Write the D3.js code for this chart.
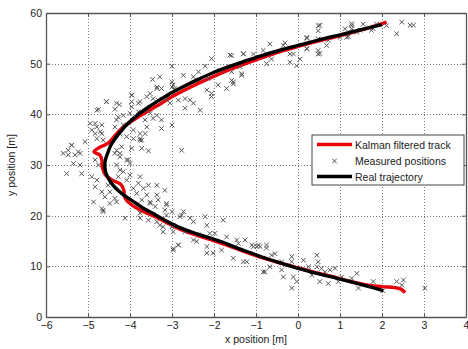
<!DOCTYPE html>
<html lang="en">
  <head>
    <title>kalman track</title>
    <meta charset="utf-8">
    <style>
      body { margin: 0; background: #fff; }
      .tick text { font-family: "Liberation Sans", Arial, sans-serif; font-size: 10.5px; fill: #222; }
      .label { font-family: "Liberation Sans", Arial, sans-serif; font-size: 10.5px; fill: #222; }
      .grid { stroke: #777; stroke-width: 1; stroke-dasharray: 1,2; }
    </style>
    <script src="https://d3js.org/d3.v7.min.js"></script>
  </head>
  <body>
    <script>

    var xTicks = [-6, -5, -4, -3, -2, -1, 0, 1, 2, 3, 4];
    var yTicks = [0, 10, 20, 30, 40, 50, 60];
    var legendLabels = ["Kalman filtered track", "Measured positions", "Real trajectory"];

    // real trajectory (bottom end first)
    var realTrack = [[2.03, 5.2], [1.6, 6.2], [1.24, 7.0], [0.8, 7.9], [0.45, 8.6], [0.0, 9.6], [-0.35, 10.5],
      [-0.7, 11.4], [-1.14, 12.7], [-1.5, 13.8], [-1.8, 14.8], [-2.1, 15.6], [-2.4, 16.4], [-2.8, 17.6],
      [-3.1, 18.8], [-3.4, 20.2], [-3.65, 21.3], [-3.85, 22.4], [-4.05, 23.5], [-4.2, 24.4], [-4.35, 25.5],
      [-4.45, 26.5], [-4.53, 27.6], [-4.58, 28.6], [-4.6, 30.0], [-4.58, 31.2], [-4.52, 32.6], [-4.45, 34.0],
      [-4.32, 35.6], [-4.18, 37.0], [-4.05, 38.2], [-3.8, 40.0], [-3.55, 41.5], [-3.3, 42.8], [-3.0, 44.3],
      [-2.7, 45.6], [-2.35, 47.0], [-2.0, 48.3], [-1.65, 49.4], [-1.3, 50.4], [-0.9, 51.5], [-0.45, 52.6],
      [0.0, 53.6], [0.5, 54.7], [1.0, 55.7], [1.5, 56.7], [2.0, 57.7]];

    var kalmanTrack = [[2.55, 4.8], [2.45, 5.5], [2.3, 5.8], [2.0, 6.0], [1.6, 6.4], [1.2, 7.1], [0.8, 8.0],
      [0.45, 8.7], [0.0, 9.7], [-0.35, 10.5], [-0.7, 11.3], [-1.14, 12.5], [-1.5, 13.6], [-1.8, 14.5],
      [-2.1, 15.3], [-2.4, 16.1], [-2.8, 17.3], [-3.1, 18.5], [-3.4, 19.8], [-3.68, 20.8], [-3.9, 21.8],
      [-4.08, 23.0], [-4.14, 24.0], [-4.14, 24.8], [-4.22, 26.2], [-4.42, 27.0], [-4.58, 28.0], [-4.66, 29.6],
      [-4.67, 31.0], [-4.72, 32.0], [-4.86, 32.6], [-4.72, 33.5], [-4.52, 34.3], [-4.36, 35.8], [-4.2, 37.2],
      [-4.02, 38.3], [-3.78, 39.6], [-3.52, 40.9], [-3.25, 42.2], [-2.95, 43.7], [-2.65, 45.0], [-2.3, 46.4],
      [-1.95, 47.7], [-1.6, 48.9], [-1.25, 50.0], [-0.85, 51.2], [-0.42, 52.4], [0.0, 53.4], [0.5, 54.5],
      [1.0, 55.5], [1.5, 56.6], [2.11, 58.2]];

    var measured = [
      [-1.58, 51.6], [-1.30, 51.9], [-1.06, 51.9], [-0.83, 52.6], [-0.67, 53.9], [-0.75, 50.0], [-0.63, 50.9],
      [-1.34, 48.0], [-1.58, 46.7], [-1.54, 46.0], [-0.35, 53.6], [-0.31, 54.1], [-0.19, 51.9], [-0.11, 51.9],
      [-0.19, 50.3], [-0.03, 49.6], [0.05, 50.9], [0.21, 55.2], [0.21, 52.9], [0.48, 57.5], [0.48, 56.5],
      [0.48, 54.9], [0.48, 52.6], [0.48, 51.9], [0.68, 53.6], [0.72, 54.6], [1.0, 55.2], [1.16, 55.2],
      [1.12, 56.9], [1.28, 57.5], [1.28, 56.9], [1.40, 56.2], [1.55, 57.8], [1.79, 56.9], [1.87, 57.8],
      [2.11, 57.5], [2.35, 55.9], [2.47, 58.2], [2.67, 57.6], [2.75, 57.6], [0.52, 57.6], [0.21, 55.0],
      [0.21, 53.0], [0.52, 52.0], [1.28, 57.9], [1.20, 55.3], [1.48, 56.6], [1.75, 56.6],
      [-3.0, 49.5], [-2.73, 47.7], [-3.29, 47.4], [-2.21, 49.5], [-2.37, 48.4], [-2.49, 47.4], [-2.14, 47.1],
      [-1.86, 48.7], [-1.62, 49.4], [-1.34, 47.7], [-1.54, 46.4], [-1.70, 45.1], [-1.90, 45.8], [-2.17, 44.8],
      [-2.06, 44.1], [-2.06, 43.5], [-3.0, 46.4], [-2.97, 45.8], [-3.0, 45.4], [-2.93, 45.1], [-3.36, 45.4],
      [-3.25, 45.1], [-3.52, 44.1], [-3.60, 43.5], [-3.45, 43.1], [-3.33, 42.8], [-3.13, 43.1], [-3.05, 42.2],
      [-2.85, 42.8], [-2.69, 43.1], [-2.57, 42.8], [-2.49, 42.2], [-2.69, 41.2], [-2.33, 40.8], [-3.96, 43.8],
      [-3.96, 42.5], [-3.80, 42.2], [-4.32, 42.2], [-4.56, 42.5], [-4.79, 40.8], [-4.16, 39.8], [-4.0, 40.2],
      [-3.80, 40.5], [-3.60, 40.8], [-3.52, 40.2], [-3.36, 39.8], [-3.45, 39.2], [-3.64, 38.9], [-3.25, 38.9],
      [-3.60, 37.5], [-3.25, 37.2], [-3.0, 37.9], [-3.92, 36.9], [-4.16, 37.9], [-4.32, 38.9], [-4.36, 37.5],
      [-4.83, 38.2], [-4.91, 36.9], [-4.71, 36.6], [-4.79, 35.2], [-4.64, 34.9], [-4.24, 36.2], [-4.08, 35.6],
      [-3.76, 35.2], [-3.72, 34.9], [-3.96, 33.3], [-3.72, 33.3], [-3.56, 32.8], [-2.77, 32.9], [-4.36, 32.3],
      [-4.24, 31.6], [-4.08, 31.0], [-4.0, 30.3], [-4.83, 31.0], [-4.75, 30.0],
      [-1.62, 51.7], [-1.30, 52.0], [-2.06, 51.0], [-1.38, 49.4], [-1.58, 48.4],
      [-5.39, 33.9], [-5.59, 32.3], [-5.47, 32.0], [-5.31, 32.0], [-5.23, 32.6], [-5.35, 30.3], [-5.19, 30.0],
      [-5.51, 28.3], [-5.15, 28.3], [-5.07, 34.6], [-4.83, 36.2], [-4.67, 36.2], [-4.91, 27.7], [-4.79, 27.0],
      [-4.83, 25.7], [-4.67, 24.7], [-4.60, 23.7], [-4.87, 22.7], [-4.67, 21.4], [-4.64, 20.8], [-4.48, 24.7],
      [-4.36, 23.4], [-4.32, 22.7], [-4.52, 26.0], [-4.44, 26.7], [-4.28, 27.7], [-4.24, 29.0], [-4.32, 30.0],
      [-4.16, 28.7], [-4.04, 31.0], [-4.24, 32.3], [-4.32, 32.9], [-4.20, 33.6], [-3.92, 35.2], [-3.76, 34.9],
      [-3.76, 36.2], [-3.64, 36.2], [-4.08, 27.0], [-4.0, 28.0], [-3.76, 27.7], [-3.80, 26.4], [-3.92, 25.4],
      [-3.84, 24.4], [-3.68, 25.4], [-3.56, 26.0], [-3.36, 26.0], [-3.17, 25.0], [-3.60, 24.1], [-3.36, 24.1],
      [-3.72, 23.1], [-3.52, 22.7], [-3.33, 23.1], [-3.13, 22.4], [-3.40, 21.8], [-3.17, 21.1], [-3.0, 20.8],
      [-3.13, 20.1], [-3.76, 19.5], [-3.56, 19.1], [-3.36, 18.8], [-3.21, 17.8], [-2.97, 18.1], [-2.81, 19.8],
      [-2.73, 20.8], [-2.57, 19.5], [-2.49, 18.8], [-4.12, 19.5],
      [-4.64, 21.1], [-4.48, 22.4], [-3.76, 20.5], [-3.52, 22.4], [-3.13, 22.1], [-3.29, 18.1], [-3.21, 16.8],
      [-3.0, 17.8], [-2.77, 20.1], [-2.69, 16.8], [-2.21, 19.8], [-2.17, 18.1], [-2.37, 16.2], [-2.49, 15.2],
      [-2.41, 14.9], [-2.97, 13.2], [-2.85, 14.2], [-2.10, 16.5], [-1.98, 16.5], [-2.17, 13.9], [-2.17, 12.6],
      [-2.02, 12.6], [-1.82, 13.2], [-1.78, 19.1], [-1.70, 15.8], [-1.46, 15.2], [-1.26, 15.2], [-1.42, 14.5],
      [-1.54, 11.6], [-1.30, 10.9], [-1.22, 10.9], [-1.06, 13.9], [-0.94, 14.2], [-0.79, 8.9], [-0.90, 13.9],
      [-1.10, 14.2], [-0.98, 13.9], [-0.75, 14.2], [-0.75, 13.6], [-0.63, 12.2], [-0.55, 12.5], [-0.83, 8.9],
      [-0.67, 9.9], [-0.39, 9.3], [-0.39, 10.9], [-0.35, 7.9], [-0.15, 11.9], [-0.15, 10.9], [-0.11, 7.9],
      [-0.03, 7.0], [-0.15, 5.7], [0.13, 11.2], [0.25, 9.9], [0.33, 8.3], [0.45, 12.2], [0.48, 10.9],
      [0.45, 9.9], [0.56, 9.6], [0.52, 7.0], [0.64, 8.9], [0.72, 6.6], [0.76, 9.3], [0.88, 9.6], [1.04, 7.9],
      [0.96, 7.0], [1.28, 7.6], [1.40, 8.6], [1.44, 5.7], [1.79, 7.0], [2.02, 5.2], [2.35, 7.0], [2.51, 7.3],
      [2.47, 6.3], [3.02, 5.7],
      [-4.75, 41.0], [-4.56, 42.5], [-4.36, 41.0], [-4.25, 41.9], [-4.28, 39.4], [-3.96, 43.8], [-3.96, 41.5],
      [-3.76, 42.5], [-3.46, 46.9], [-3.36, 45.1], [-5.47, 32.9], [-5.39, 33.9], [-5.19, 32.3], [-4.95, 38.2],
      [-4.79, 37.5], [-4.67, 37.9], [-2.97, 13.5], [-2.85, 14.2], [-2.97, 16.8]
    ];

    var margin = {top: 13, left: 46};
    var W = 468, H = 349;

    var svg = d3.select("body")
                .append("svg")
                .attr("width", W)
                .attr("height", H)
                .append("g")
                .attr("transform", "translate(" + margin.left + "," + margin.top + ")");

    var xS = d3.scaleLinear().domain([-6, 4]).range([0, 420]);
    var yS = d3.scaleLinear().domain([0, 60]).range([304, 0]);

    // dotted grid
    svg.selectAll(".gx").data(xTicks.slice(1, -1)).enter().append("line")
       .attr("class", "grid")
       .attr("x1", function(d) { return Math.round(xS(d)) + 0.5; })
       .attr("x2", function(d) { return Math.round(xS(d)) + 0.5; })
       .attr("y1", 0).attr("y2", 304);
    svg.selectAll(".gy").data(yTicks.slice(1, -1)).enter().append("line")
       .attr("class", "grid")
       .attr("y1", function(d) { return Math.round(yS(d)) + 0.5; })
       .attr("y2", function(d) { return Math.round(yS(d)) + 0.5; })
       .attr("x1", 0).attr("x2", 420);

    var line = d3.line()
                 .x(function(d) { return xS(d[0]); })
                 .y(function(d) { return yS(d[1]); })
                 .curve(d3.curveCatmullRom);

    svg.append("path").datum(kalmanTrack)
       .attr("d", line)
       .attr("fill", "none").attr("stroke", "#e8000b").attr("stroke-width", 3.4)
       .attr("stroke-linejoin", "round");

    var cross = "M-2.3,-2.3L2.3,2.3M-2.3,2.3L2.3,-2.3";
    svg.selectAll(".m").data(measured).enter().append("path")
       .attr("d", cross)
       .attr("transform", function(d) { return "translate(" + xS(d[0]) + "," + yS(d[1]) + ")"; })
       .attr("stroke", "#555").attr("stroke-width", 1).attr("fill", "none");

    svg.append("path").datum(realTrack)
       .attr("d", line)
       .attr("fill", "none").attr("stroke", "#000").attr("stroke-width", 3.4)
       .attr("stroke-linejoin", "round");

    // axes, ticks pointing inward on all four sides
    svg.append("g")
       .attr("transform", "translate(0,304)")
       .call(d3.axisBottom(xS).tickValues(xTicks).tickSizeInner(-4).tickSizeOuter(0).tickPadding(5));
    svg.append("g")
       .call(d3.axisTop(xS).tickValues(xTicks).tickSizeInner(-4).tickSizeOuter(0).tickFormat(""));
    svg.append("g")
       .call(d3.axisLeft(yS).tickValues(yTicks).tickSizeInner(-4).tickSizeOuter(0).tickPadding(4));
    svg.append("g")
       .attr("transform", "translate(420,0)")
       .call(d3.axisRight(yS).tickValues(yTicks).tickSizeInner(-4).tickSizeOuter(0).tickFormat(""));

    svg.selectAll(".domain").attr("stroke", "#555").attr("stroke-width", 1.3);
    svg.selectAll(".tick line").attr("stroke", "#555");

    svg.append("text").attr("class", "label")
       .attr("x", 210).attr("y", 330)
       .style("text-anchor", "middle")
       .text("x position [m]");
    svg.append("text").attr("class", "label")
       .attr("transform", "translate(-31,152) rotate(-90)")
       .style("text-anchor", "middle")
       .text("y position [m]");

    // legend
    var lg = svg.append("g").attr("transform", "translate(266,122)");
    lg.append("rect").attr("x", 0).attr("y", 0).attr("width", 152).attr("height", 50)
      .attr("fill", "#fff").attr("stroke", "#444").attr("stroke-width", 1);
    lg.append("line").attr("x1", 5).attr("x2", 40).attr("y1", 9.5).attr("y2", 9.5)
      .attr("stroke", "#e8000b").attr("stroke-width", 3.4);
    lg.append("path").attr("d", cross).attr("transform", "translate(22.5,26)")
      .attr("stroke", "#555").attr("fill", "none");
    lg.append("line").attr("x1", 5).attr("x2", 40).attr("y1", 41.5).attr("y2", 41.5)
      .attr("stroke", "#000").attr("stroke-width", 3.4);
    lg.selectAll(".lt").data(legendLabels).enter().append("text")
      .attr("class", "label")
      .attr("x", 43)
      .attr("y", function(d, i) { return 13.5 + i * 16; })
      .text(function(d) { return d; });

    </script>
  </body>
</html>
